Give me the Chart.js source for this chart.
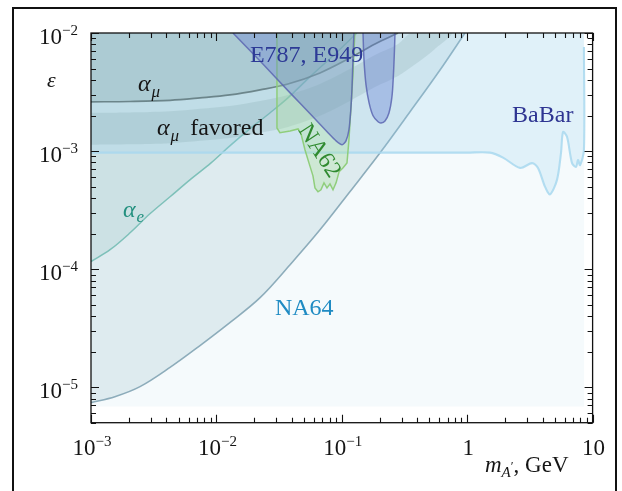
<!DOCTYPE html>
<html>
<head>
<meta charset="utf-8">
<script src="https://cdn.jsdelivr.net/npm/chart.js@4"></script>
<style>
html, body { margin:0; padding:0; background:#fff; }
#caja { width:622px; height:491px; }
</style>
</head>
<body>
<div id="caja"><canvas id="chart1" width="622" height="491"></canvas></div>
<script>
// masas en GeV, acoplamiento epsilon
var fondoMasa = [0.001, 8.6];
var fondoEps = [6.85e-6, 6.85e-6];

var na64Masa = [0.001, 0.00155, 0.00246, 0.00427, 0.0074, 0.0128, 0.0223, 0.0387, 0.067, 0.116, 0.202, 0.35, 0.607, 0.96];
var na64Eps = [7.4e-6, 8.3e-6, 1.01e-5, 1.47e-5, 2.25e-5, 3.52e-5, 5.73e-5, 1.09e-4, 2.15e-4, 4.52e-4, 9.66e-4, 2.15e-3, 4.86e-3, 1.0e-2];

var aeMasa = [0.001, 0.00142, 0.00205, 0.00295, 0.00427, 0.00615, 0.00906, 0.0128, 0.0185, 0.0267, 0.0372, 0.0557, 0.0883, 0.132];
var aeEps = [1.16e-4, 1.46e-4, 2.03e-4, 2.94e-4, 4.10e-4, 5.70e-4, 7.94e-4, 1.107e-3, 1.54e-3, 2.10e-3, 2.82e-3, 4.25e-3, 6.64e-3, 1.0e-2];

var babarMasa = [0.001, 1.0, 1.52, 1.93, 2.64, 3.29, 3.67, 4.17, 4.57, 5.20, 5.60, 5.81, 6.25, 6.86, 7.38, 7.65, 7.94, 8.53, 8.53];
var babarEps = [9.7e-4, 9.7e-4, 9.7e-4, 8.8e-4, 7.2e-4, 7.9e-4, 7.2e-4, 5.0e-4, 4.3e-4, 5.7e-4, 9.7e-4, 1.45e-3, 1.32e-3, 7.9e-4, 7.35e-4, 8.4e-4, 7.6e-4, 1.02e-3, 7.6e-3];

var amuMasa = [0.001, 0.00205, 0.00427, 0.0074, 0.0128, 0.0223, 0.0372, 0.067, 0.116, 0.184, 0.281];
var amuEps = [2.61e-3, 2.63e-3, 2.69e-3, 2.82e-3, 2.99e-3, 3.30e-3, 3.70e-3, 4.59e-3, 6.14e-3, 8.07e-3, 1.0e-2];

var bandaArribaMasa = [0.001, 0.00205, 0.00427, 0.0074, 0.0128, 0.0223, 0.0372, 0.067, 0.116, 0.184, 0.281, 0.36];
var bandaArribaEps = [2.11e-3, 2.12e-3, 2.17e-3, 2.28e-3, 2.41e-3, 2.66e-3, 2.99e-3, 3.70e-3, 4.95e-3, 6.51e-3, 8.07e-3, 1.0e-2];
var bandaAbajoMasa = [0.001, 0.00205, 0.00427, 0.0074, 0.0128, 0.0223, 0.0372, 0.067, 0.116, 0.184, 0.281, 0.4, 0.55, 0.75];
var bandaAbajoEps = [1.13e-3, 1.14e-3, 1.165e-3, 1.22e-3, 1.29e-3, 1.43e-3, 1.60e-3, 1.99e-3, 2.66e-3, 3.49e-3, 4.33e-3, 5.6e-3, 7.3e-3, 1.0e-2];

var e787Masa = [0.01355, 0.0223, 0.0387, 0.0589, 0.0776, 0.0900, 0.1005, 0.108, 0.114, 0.118, 0.1205, 0.1227, 0.125];
var e787Eps = [1.0e-2, 5.80e-3, 3.11e-3, 1.95e-3, 1.43e-3, 1.22e-3, 1.13e-3, 1.22e-3, 1.51e-3, 2.23e-3, 3.30e-3, 5.91e-3, 1.0e-2];

var e949Masa = [0.1476, 0.1503, 0.156, 0.165, 0.1775, 0.1946, 0.2056, 0.221, 0.2377, 0.251, 0.258, 0.263, 0.2655];
var e949Eps = [1.0e-2, 5.91e-3, 3.63e-3, 2.56e-3, 1.99e-3, 1.77e-3, 1.73e-3, 1.80e-3, 2.10e-3, 2.87e-3, 4.41e-3, 7.18e-3, 1.0e-2];

var na62Masa = [0.0304, 0.0304, 0.0304, 0.0321, 0.0387, 0.0448, 0.0473, 0.0509, 0.0547, 0.0589, 0.0611, 0.0646, 0.0682, 0.0721, 0.0762, 0.0805, 0.0851, 0.0900, 0.0951, 0.1024, 0.110, 0.114, 0.118, 0.1227, 0.127];
var na62Eps = [1.0e-2, 4.0e-3, 1.57e-3, 1.43e-3, 1.48e-3, 1.54e-3, 1.40e-3, 1.02e-3, 7.94e-4, 6.17e-4, 4.88e-4, 4.52e-4, 4.70e-4, 5.38e-4, 4.88e-4, 5.28e-4, 4.70e-4, 5.38e-4, 6.67e-4, 7.21e-4, 7.94e-4, 1.24e-3, 2.23e-3, 4.41e-3, 1.0e-2];

var xDecadas = [1e-3, 1e-2, 1e-1, 1, 10];
var xEtiquetas = [['10', '\u22123'], ['10', '\u22122'], ['10', '\u22121'], ['1', ''], ['10', '']];
var yDecadas = [1e-5, 1e-4, 1e-3, 1e-2];
var yEtiquetas = [['10', '\u22125'], ['10', '\u22124'], ['10', '\u22123'], ['10', '\u22122']];
var menores = [2, 3, 4, 5, 6, 7, 8, 9];

var SERIF = '"Liberation Serif", "Times New Roman", serif';

function puntos(xs, ys){
    return xs.map(function(x, i){ return {x: x, y: ys[i]}; });
}

var bandaPuntos = puntos(bandaArribaMasa, bandaArribaEps).concat(puntos(bandaAbajoMasa, bandaAbajoEps).reverse());

// etiquetas dentro del grafico (posicion en coordenadas de datos)
var textos = [
    {m: 2.37e-3, e: 3.23e-3, color: '#151515', partes: [['\u03b1', 'italic 24px', 0, 0], ['\u03bc', 'italic 17px', 1, 6]]},
    {m: 3.36e-3, e: 1.37e-3, color: '#151515', partes: [['\u03b1', 'italic 24px', 0, 0], ['\u03bc', 'italic 17px', 1, 6], ['favored', '24px', 11, 0]]},
    {m: 1.80e-3, e: 2.77e-4, color: '#23907f', partes: [['\u03b1', 'italic 24px', 0, 0], ['e', 'italic 17px', 1, 5]]},
    {m: 0.0185, e: 5.69e-3, color: '#2d3a96', partes: [['E787, E949', '24px', 0, 0]]},
    {m: 2.28, e: 1.77e-3, color: '#2e3592', partes: [['BaBar', '24px', 0, 0]]},
    {m: 0.0293, e: 4.11e-5, color: '#1f8bc3', partes: [['NA64', '24px', 0, 0]]}
];

function escribir(ctx, x, y, partes, color){
    ctx.fillStyle = color;
    ctx.textAlign = 'left';
    ctx.textBaseline = 'alphabetic';
    var cx = x;
    partes.forEach(function(p){
        ctx.font = p[1] + ' ' + SERIF;
        cx += p[2];
        ctx.fillText(p[0], cx, y + p[3]);
        cx += ctx.measureText(p[0]).width;
    });
}

function potencia(ctx, base, exp, x, y, centrado){
    ctx.font = '23px ' + SERIF;
    var wb = ctx.measureText(base).width;
    ctx.font = '15px ' + SERIF;
    var we = exp ? ctx.measureText(exp).width : 0;
    var x0 = centrado ? x - (wb + we) / 2 : x - (wb + we);
    ctx.font = '23px ' + SERIF;
    ctx.fillText(base, x0, y);
    if (exp) {
        ctx.font = '15px ' + SERIF;
        ctx.fillText(exp, x0 + wb, y - 9);
    }
}

function listaTicks(decadas, min, max){
    var lista = [];
    [decadas[0] / 10].concat(decadas).forEach(function(d){
        if (d >= min && d <= max) lista.push({v: d, mayor: true});
        menores.forEach(function(k){
            var v = d * k;
            if (v > min && v < max) lista.push({v: v, mayor: false});
        });
    });
    return lista;
}

var dibujoPlugin = {
    id: 'dibujo',
    afterDraw: function(chart){
        var ctx = chart.ctx;
        var area = chart.chartArea;
        var sx = chart.scales.x;
        var sy = chart.scales.y;
        ctx.save();

        // marco de la figura
        ctx.strokeStyle = '#111';
        ctx.lineWidth = 2;
        ctx.beginPath();
        ctx.moveTo(13, 495); ctx.lineTo(13, 8); ctx.lineTo(616, 8); ctx.lineTo(616, 495);
        ctx.stroke();

        // textos de regiones
        textos.forEach(function(t){
            escribir(ctx, sx.getPixelForValue(t.m), sy.getPixelForValue(t.e), t.partes, t.color);
        });
        // NA62 girado
        ctx.save();
        ctx.translate(sx.getPixelForValue(0.0658), sy.getPixelForValue(1.0e-3));
        ctx.rotate(57 * Math.PI / 180);
        ctx.fillStyle = '#2f8a2f';
        ctx.font = '24px ' + SERIF;
        ctx.textAlign = 'center';
        ctx.textBaseline = 'middle';
        ctx.fillText('NA62', 0, 0);
        ctx.restore();

        // caja de ejes
        ctx.strokeStyle = '#111';
        ctx.lineWidth = 1.3;
        ctx.strokeRect(area.left, area.top, area.right - area.left, area.bottom - area.top);

        // ticks hacia adentro
        ctx.lineWidth = 1.1;
        ctx.beginPath();
        listaTicks(xDecadas, sx.min, sx.max).forEach(function(t){
            var px = Math.round(sx.getPixelForValue(t.v)) + 0.5;
            var l = t.mayor ? 8 : 5;
            ctx.moveTo(px, area.bottom); ctx.lineTo(px, area.bottom - l);
            ctx.moveTo(px, area.top); ctx.lineTo(px, area.top + l);
        });
        listaTicks(yDecadas, sy.min, sy.max).forEach(function(t){
            var py = Math.round(sy.getPixelForValue(t.v)) + 0.5;
            var l = t.mayor ? 8 : 5;
            ctx.moveTo(area.left, py); ctx.lineTo(area.left + l, py);
            ctx.moveTo(area.right, py); ctx.lineTo(area.right - l, py);
        });
        ctx.stroke();

        // etiquetas de ticks
        ctx.fillStyle = '#151515';
        ctx.textAlign = 'left';
        ctx.textBaseline = 'alphabetic';
        xDecadas.forEach(function(d, i){
            potencia(ctx, xEtiquetas[i][0], xEtiquetas[i][1], sx.getPixelForValue(d) + 1, area.bottom + 32, true);
        });
        yDecadas.forEach(function(d, i){
            potencia(ctx, yEtiquetas[i][0], yEtiquetas[i][1], area.left - 13, sy.getPixelForValue(d) + 11, false);
        });

        // titulos de ejes
        escribir(ctx, 47, 87, [['\u03b5', 'italic 22px', 0, 0]], '#151515');
        escribir(ctx, 485, 472, [['m', 'italic 23px', 0, 0], ['A', 'italic 15px', 0, 5], ['\u2032', '13px', 0, -2], [', GeV', '23px', 0, 0]], '#151515');

        ctx.restore();
    }
};

function serie(xs, ys, extra){
    var d = {
        data: puntos(xs, ys),
        showLine: true,
        pointRadius: 0,
        borderWidth: 1.5,
        tension: 0.35
    };
    for (var k in extra) d[k] = extra[k];
    return d;
}

var datos = {
    type: 'scatter',
    data: {
        datasets: [
            serie(e949Masa, e949Eps, {order: 1, fill: 'end', backgroundColor: 'rgba(95,118,210,0.34)', borderColor: 'rgba(92,102,178,0.85)'}),
            serie(e787Masa, e787Eps, {order: 2, tension: 0.25, fill: 'end', backgroundColor: 'rgba(95,118,210,0.32)', borderColor: 'rgba(92,102,178,0.85)'}),
            serie(na62Masa, na62Eps, {order: 3, tension: 0, fill: 'end', backgroundColor: 'rgba(170,224,150,0.3)', borderColor: 'rgba(140,204,118,0.95)'}),
            {data: bandaPuntos, order: 4, showLine: true, pointRadius: 0, borderWidth: 0, tension: 0.3, fill: 'shape', backgroundColor: 'rgba(100,140,140,0.17)'},
            serie(amuMasa, amuEps, {order: 5, fill: 'end', backgroundColor: 'rgba(100,140,140,0.22)', borderColor: 'rgba(95,120,124,0.85)', borderWidth: 1.7}),
            serie(babarMasa, babarEps, {order: 6, tension: 0.3, fill: 'end', backgroundColor: 'rgba(150,210,240,0.22)', borderColor: 'rgba(168,216,238,0.85)', borderWidth: 2.1}),
            serie(aeMasa, aeEps, {order: 7, fill: 'end', backgroundColor: 'rgba(100,170,170,0.15)', borderColor: 'rgba(110,186,176,0.85)'}),
            serie(na64Masa, na64Eps, {order: 8, fill: 'end', backgroundColor: 'rgba(130,175,190,0.2)', borderColor: 'rgba(125,160,176,0.85)', borderWidth: 1.6}),
            serie(fondoMasa, fondoEps, {order: 9, tension: 0, fill: 'end', backgroundColor: '#f5fafc', borderWidth: 0})
        ]
    },
    options: {
        responsive: false,
        animation: false,
        layout: {padding: {left: 91, top: 33, right: 29.4, bottom: 68.3}},
        plugins: {legend: {display: false}, tooltip: {enabled: false}},
        scales: {
            x: {type: 'logarithmic', min: 1e-3, max: 10, display: false},
            y: {type: 'logarithmic', min: 5e-6, max: 1e-2, display: false}
        }
    },
    plugins: [dibujoPlugin]
};

var canvas = document.getElementById('chart1').getContext('2d');
window.grafico = new Chart(canvas, datos);
</script>
</body>
</html>
